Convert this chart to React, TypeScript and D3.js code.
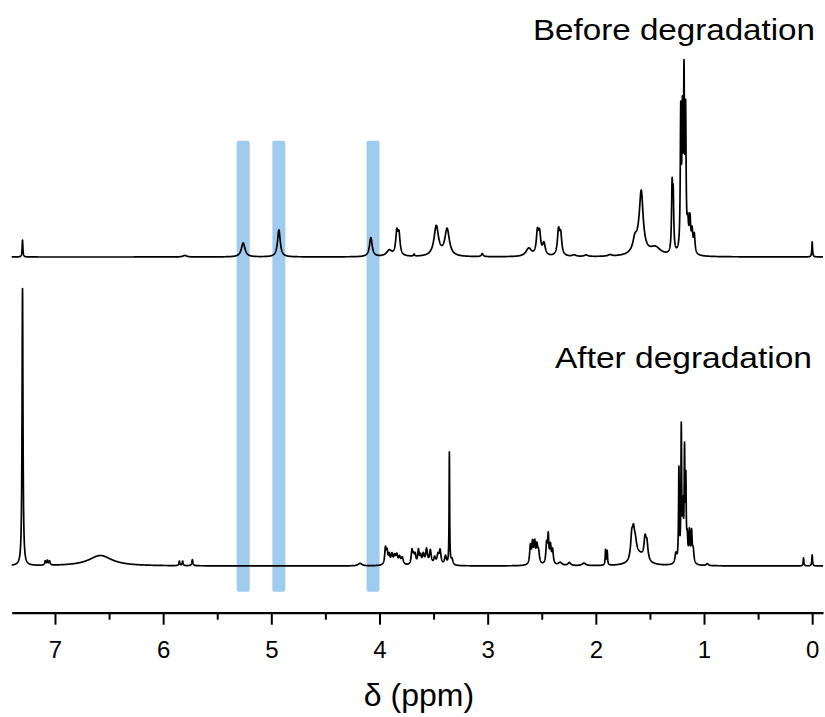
import * as d3 from 'd3';
import { useEffect, useRef } from 'react';

const W = 825;
const H = 717;

// peak lists: [shift (ppm), height (a.u.), half width (ppm)]
const beforePeaks: [number, number, number][] = [
  [7.3, 17, 0.004],
  [5.8, 1.5, 0.02],
  [5.26, 14, 0.02],
  [4.93, 27, 0.015],
  [4.08, 19, 0.015],
  [3.91, 6, 0.03],
  [3.84, 22, 0.012],
  [3.82, 20, 0.012],
  [3.68, 2, 0.005],
  [3.475, 30, 0.025],
  [3.375, 27, 0.025],
  [3.05, 3, 0.01],
  [2.62, 8, 0.03],
  [2.54, 22, 0.012],
  [2.52, 20, 0.012],
  [2.48, 12, 0.015],
  [2.345, 24, 0.012],
  [2.325, 20, 0.012],
  [2.2, 1.5, 0.02],
  [2.09, 1.5, 0.02],
  [1.87, 1.5, 0.02],
  [1.64, 10, 0.02],
  [1.6, 12, 0.05],
  [1.58, 54, 0.02],
  [1.45, 8, 0.06],
  [1.295, 62, 0.006],
  [1.285, 52, 0.006],
  [1.215, 135, 0.005],
  [1.2, 125, 0.005],
  [1.185, 165, 0.005],
  [1.17, 130, 0.005],
  [1.15, 25, 0.008],
  [1.13, 32, 0.008],
  [1.11, 20, 0.008],
  [1.09, 18, 0.008],
  [0.0, 15, 0.004],
];

const afterPeaks: [number, number, number][] = [
  [7.3, 277, 0.005],
  [7.09, 4, 0.006],
  [7.07, 4.5, 0.006],
  [7.05, 4, 0.006],
  [6.58, 10.5, 0.13],
  [5.85, 4.5, 0.005],
  [5.82, 4.5, 0.005],
  [5.73, 6, 0.006],
  [4.18, 2.5, 0.02],
  [3.945, 16, 0.008],
  [3.93, 12, 0.008],
  [3.91, 9, 0.008],
  [3.885, 10, 0.01],
  [3.86, 8, 0.01],
  [3.84, 9, 0.01],
  [3.815, 7, 0.01],
  [3.79, 7, 0.012],
  [3.7, 14, 0.008],
  [3.685, 8, 0.008],
  [3.67, 9, 0.008],
  [3.64, 14, 0.008],
  [3.62, 8, 0.008],
  [3.595, 10, 0.01],
  [3.565, 15, 0.01],
  [3.53, 14, 0.01],
  [3.49, 7, 0.01],
  [3.46, 9, 0.01],
  [3.44, 14, 0.01],
  [3.39, 9, 0.01],
  [3.354, 112, 0.003],
  [3.33, 6, 0.01],
  [2.605, 18, 0.008],
  [2.585, 20, 0.008],
  [2.565, 20, 0.008],
  [2.545, 16, 0.008],
  [2.53, 12, 0.01],
  [2.455, 20, 0.008],
  [2.44, 26, 0.006],
  [2.42, 18, 0.008],
  [2.4, 14, 0.008],
  [2.33, 3, 0.02],
  [2.245, 3, 0.015],
  [2.11, 2.5, 0.02],
  [1.91, 15, 0.004],
  [1.895, 14, 0.004],
  [1.668, 22, 0.012],
  [1.652, 22, 0.012],
  [1.635, 14, 0.015],
  [1.6, 10, 0.06],
  [1.545, 20, 0.012],
  [1.528, 16, 0.012],
  [1.26, 10, 0.01],
  [1.232, 92, 0.004],
  [1.21, 132, 0.004],
  [1.195, 50, 0.005],
  [1.18, 106, 0.004],
  [1.168, 76, 0.004],
  [1.155, 22, 0.006],
  [1.135, 30, 0.006],
  [1.115, 30, 0.006],
  [1.1, 13, 0.008],
  [0.97, 2, 0.01],
  [0.08, 8, 0.004],
  [0.0, 11, 0.004],
];

const majorTicks = [7, 6, 5, 4, 3, 2, 1, 0];
const minorTicks = [6.5, 5.5, 4.5, 3.5, 2.5, 1.5, 0.5];
const bandCenters = [5.26, 4.93, 4.06];
const bandWidth = 0.12;
const ppmDomain: [number, number] = [7.4, -0.1];

const FONT = "Arial, 'Liberation Sans', Helvetica, sans-serif";

// sum of lorentzian lines over the ppm window
function spectrum(peaks: [number, number, number][]) {
  const pts: [number, number][] = [];
  const step = 0.001;
  const n = Math.round((ppmDomain[0] - ppmDomain[1]) / step);
  for (let i = 0; i <= n; i++) {
    const ppm = ppmDomain[0] - i * step;
    let v = 0;
    for (const [c, h, w] of peaks) {
      const d = (ppm - c) / w;
      v += h / (1 + d * d);
    }
    pts.push([ppm, v]);
  }
  return pts;
}

const App = () => {
  const axisRef = useRef<SVGGElement>(null);

  const x = d3.scaleLinear().domain(ppmDomain).range([11.7, 823]);
  const yTop = d3.scaleLinear().domain([0, 200]).range([257, 57]);
  const yBot = d3.scaleLinear().domain([0, 277]).range([566, 289]);

  const lineTop = d3.line<[number, number]>().x(d => x(d[0])).y(d => yTop(d[1]));
  const lineBot = d3.line<[number, number]>().x(d => x(d[0])).y(d => yBot(d[1]));

  const before = spectrum(beforePeaks);
  const after = spectrum(afterPeaks);

  useEffect(() => {
    const g = d3.select(axisRef.current);
    g.selectAll('*').remove();

    // minor ticks
    g.append('g')
      .call(d3.axisBottom(x).tickValues(minorTicks).tickSize(7).tickFormat(() => ''))
      .call(s => s.select('.domain').remove())
      .selectAll('line').attr('stroke-width', 2);

    const major = g.append('g')
      .call(
        d3.axisBottom(x)
          .tickValues(majorTicks)
          .tickSize(12)
          .tickSizeOuter(0)
          .tickPadding(16)
          .tickFormat(d3.format('d'))
      );
    major.select('.domain').attr('stroke-width', 2.2);
    major.selectAll('line').attr('stroke-width', 2);
    major.selectAll('text')
      .attr('font-size', 24)
      .attr('font-family', FONT)
      .attr('fill', '#000');
  }, []);

  return (
    <svg
      width={W}
      height={H}
      style={{ position: 'absolute', left: 0, top: 0, background: '#fff' }}
    >
      {bandCenters.map(c => (
        <rect
          key={c}
          x={x(c + bandWidth / 2)}
          y={140.7}
          width={x(c - bandWidth / 2) - x(c + bandWidth / 2)}
          height={451}
          rx={2}
          fill="#9ecbee"
        />
      ))}
      <path d={lineTop(before) ?? ''} fill="none" stroke="#000" strokeWidth={1.7} strokeLinejoin="round" />
      <path d={lineBot(after) ?? ''} fill="none" stroke="#000" strokeWidth={1.7} strokeLinejoin="round" />

      <text x={815} y={40} textAnchor="end" fontFamily={FONT} fontSize={30}
        textLength={282} lengthAdjust="spacingAndGlyphs">Before degradation</text>
      <text x={812} y={368} textAnchor="end" fontFamily={FONT} fontSize={29}
        textLength={257} lengthAdjust="spacingAndGlyphs">After degradation</text>

      <g ref={axisRef} transform="translate(0,612.7)" />

      <text x={419} y={706} textAnchor="middle" fontFamily={FONT} fontSize={32}>δ (ppm)</text>
    </svg>
  );
};

export default App;
